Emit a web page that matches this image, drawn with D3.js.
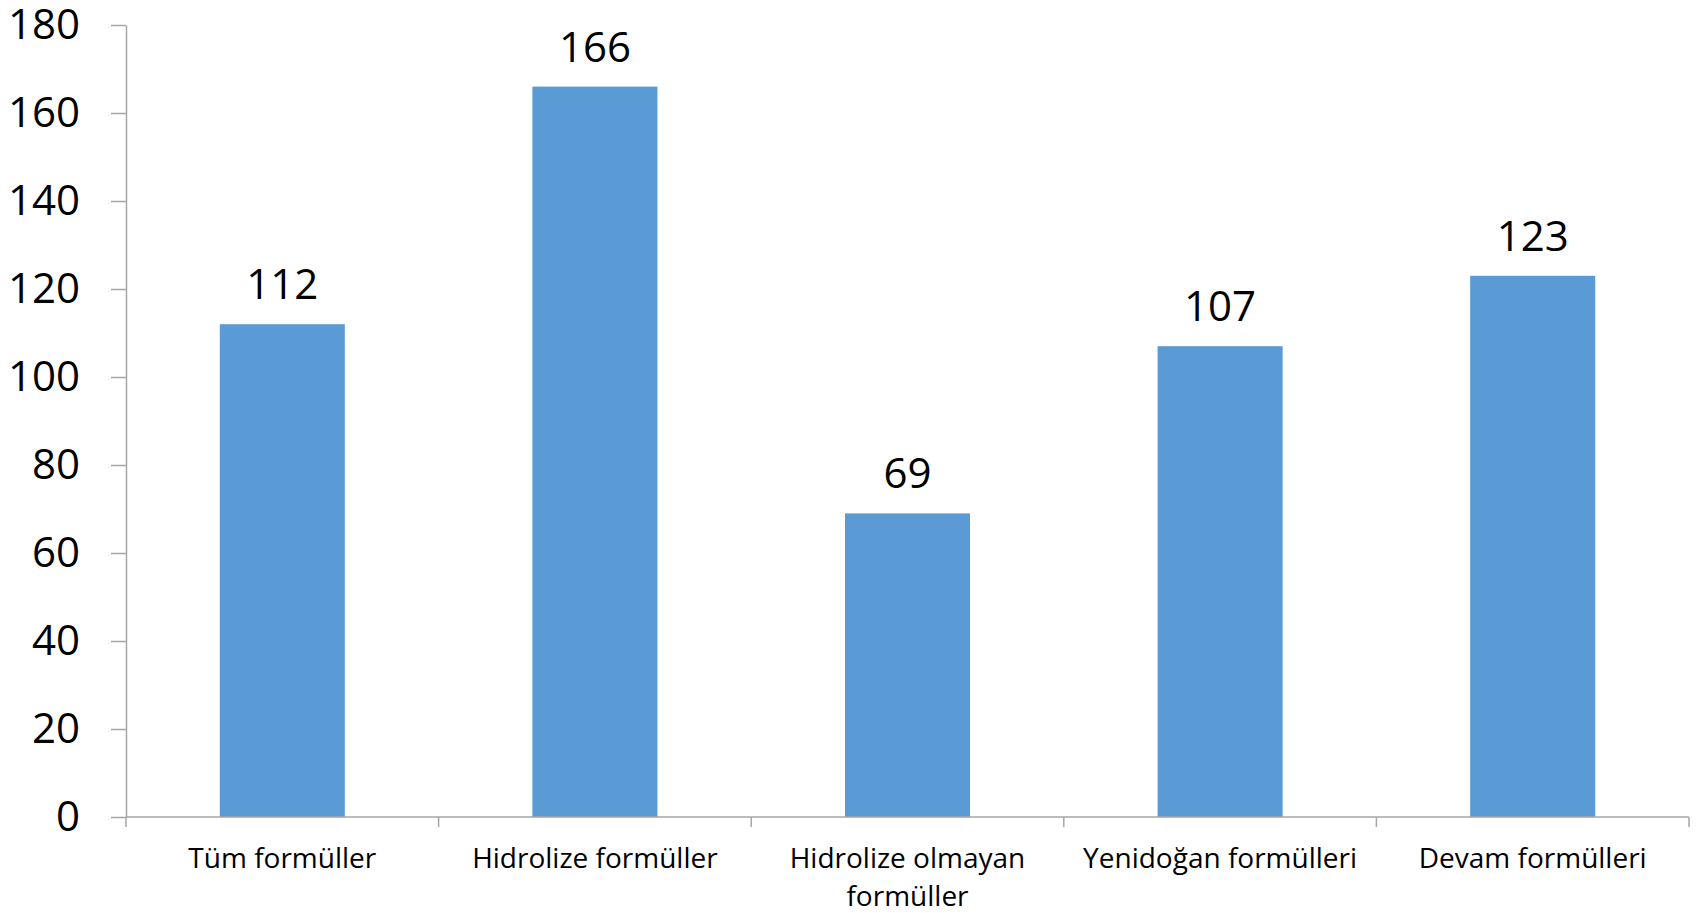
<!DOCTYPE html>
<html>
<head>
<meta charset="utf-8">
<script src="https://cdn.jsdelivr.net/npm/d3@7/dist/d3.min.js"></script>
<style>
  html, body { margin: 0; padding: 0; background: #fff; }
  svg { display: block; }
  text { font-family: "Open Sans", sans-serif; fill: #000; }
</style>
</head>
<body>
<svg id="chart" width="1700" height="913"></svg>
<script>
// Formula categories and their values
const categories = [
  "Tüm formüller",
  "Hidrolize formüller",
  "Hidrolize olmayan formüller",
  "Yenidoğan formülleri",
  "Devam formülleri"
];
const values = [112, 166, 69, 107, 123];
const yTicks = [0, 20, 40, 60, 80, 100, 120, 140, 160, 180];

// Wrapped category labels (line breaks as shown under the axis)
const categoryLines = [
  ["Tüm formüller"],
  ["Hidrolize formüller"],
  ["Hidrolize olmayan", "formüller"],
  ["Yenidoğan formülleri"],
  ["Devam formülleri"]
];

const margin = { left: 126, right: 11, top: 25, bottom: 96 };
const width = 1700, height = 913;
const svg = d3.select("#chart");
const axisColor = "#a6a6a6";

const x = d3.scaleBand()
  .domain(categories)
  .range([margin.left, width - margin.right])
  .paddingInner(0.6)
  .paddingOuter(0.3);

const y = d3.scaleLinear()
  .domain([0, 180])
  .range([height - margin.bottom, margin.top]);

// Bars
svg.append("g")
  .selectAll("rect")
  .data(values)
  .join("rect")
  .attr("x", (d, i) => x(categories[i]))
  .attr("y", d => y(d))
  .attr("width", x.bandwidth())
  .attr("height", d => y(0) - y(d))
  .attr("fill", "#5b9bd5");

// Value labels above bars
svg.append("g")
  .selectAll("text")
  .data(values)
  .join("text")
  .attr("x", (d, i) => x(categories[i]) + x.bandwidth() / 2)
  .attr("y", d => y(d) - 25)
  .attr("text-anchor", "middle")
  .attr("font-size", 42)
  .text(d => d);

// Y axis
const yAxis = svg.append("g")
  .attr("transform", `translate(${margin.left},0)`)
  .call(d3.axisLeft(y).tickValues(yTicks).tickSize(15).tickPadding(31).tickSizeOuter(0));
yAxis.select(".domain").attr("stroke", axisColor).attr("stroke-width", 1.5);
yAxis.selectAll(".tick line").attr("stroke", axisColor).attr("stroke-width", 1.5);
yAxis.selectAll(".tick text")
  .attr("font-family", "Open Sans, sans-serif")
  .attr("font-size", 42)
  .attr("fill", "#000");

// X axis: baseline with boundary ticks between categories
const xStart = margin.left, xEnd = width - margin.right;
const boundaries = d3.range(categories.length + 1).map(i => xStart + i * (xEnd - xStart) / categories.length);
const xAxis = svg.append("g");
xAxis.append("line")
  .attr("x1", xStart).attr("x2", xEnd)
  .attr("y1", y(0)).attr("y2", y(0))
  .attr("stroke", axisColor).attr("stroke-width", 1.5);
xAxis.selectAll("line.btick")
  .data(boundaries)
  .join("line")
  .attr("class", "btick")
  .attr("x1", d => d).attr("x2", d => d)
  .attr("y1", y(0)).attr("y2", y(0) + 10)
  .attr("stroke", axisColor).attr("stroke-width", 1.5);

// Category labels
const labels = svg.append("g")
  .selectAll("text")
  .data(categoryLines)
  .join("text")
  .attr("text-anchor", "middle")
  .attr("font-size", 28)
  .attr("x", (d, i) => x(categories[i]) + x.bandwidth() / 2)
  .attr("y", y(0) + 51);
labels.selectAll("tspan")
  .data(d => d)
  .join("tspan")
  .attr("x", function () { return d3.select(this.parentNode).attr("x"); })
  .attr("dy", (d, i) => i === 0 ? 0 : 38)
  .text(d => d);
</script>
</body>
</html>
